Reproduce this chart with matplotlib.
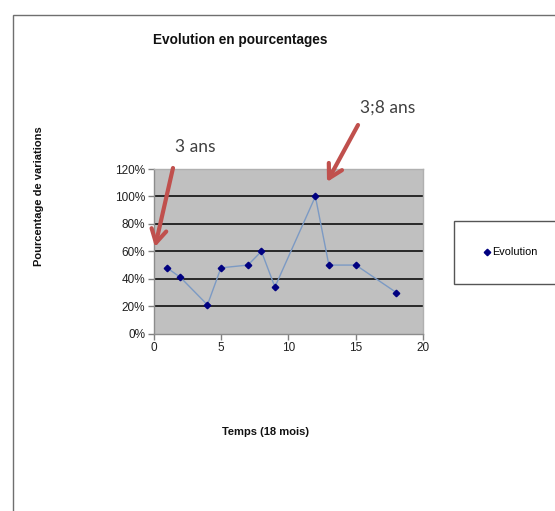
import matplotlib
matplotlib.use("Agg")
import matplotlib.pyplot as plt
from matplotlib.patches import Rectangle, FancyArrowPatch
from matplotlib.ticker import FuncFormatter, MultipleLocator

# Data
months = [1, 2, 4, 5, 7, 8, 9, 12, 13, 15, 18]
evolution = [48, 41, 21, 48, 50, 60, 34, 100, 50, 50, 30]
series_name = "Evolution"
title = "Evolution en pourcentages"
xlabel = "Temps (18 mois)"
ylabel = "Pourcentage de variations"
note1 = "3 ans"
note2 = "3;8 ans"

W, H = 555, 511
fig = plt.figure(figsize=(W / 100, H / 100), dpi=100)
fig.patch.set_facecolor("white")

def fx(px):
    return px / W

def fy(py):
    return 1 - py / H

# outer chart border
fig.patches.append(Rectangle((fx(13), fy(600)), fx(600), fy(15) - fy(600),
                             transform=fig.transFigure, fill=False,
                             edgecolor="#6f6f6f", linewidth=1.0, clip_on=False))

ax = fig.add_axes([fx(153.5), fy(333.7), fx(423.3) - fx(153.5), fy(169) - fy(333.7)])
ax.set_facecolor("#c0c0c0")
ax.plot(months, evolution, color="#7c9ac4", linewidth=1.0, marker="D",
        markersize=3.3, markerfacecolor="#000080", markeredgecolor="#000080",
        label=series_name, zorder=3)
ax.set_xlim(0, 20)
ax.set_ylim(0, 120)
ax.xaxis.set_major_locator(MultipleLocator(5))
ax.yaxis.set_major_locator(MultipleLocator(20))
ax.yaxis.set_major_formatter(FuncFormatter(lambda v, p: f"{int(v)}%"))
for y in range(20, 101, 20):
    ax.axhline(y, color="black", linewidth=1.1, zorder=1)
for s in ax.spines.values():
    s.set_color("#8c8c8c")
    s.set_linewidth(1.0)
ax.spines["top"].set_color("#b0b0b0")
ax.spines["right"].set_color("#b0b0b0")
ax.tick_params(axis="both", direction="out", length=4, width=1, color="#808080",
               labelsize=8.5, labelcolor="#202020", pad=2)
for lab in ax.get_xticklabels() + ax.get_yticklabels():
    lab.set_family("Liberation Sans")

fig.text(fx(240), fy(40), title, ha="center", va="center", fontsize=9.8,
         fontweight="bold", family="Liberation Sans", color="#111111")
fig.text(fx(39), fy(196), ylabel, ha="center", va="center", rotation=90,
         fontsize=8, fontweight="bold", family="Liberation Sans", color="#111111")
fig.text(fx(266), fy(432), xlabel, ha="center", va="center", fontsize=8,
         fontweight="bold", family="Liberation Sans", color="#111111")

# annotations
fig.text(fx(195), fy(147), note1, ha="center", va="center", fontsize=12.5,
         family="Lato", color="#404040")
fig.text(fx(388), fy(108), note2, ha="center", va="center", fontsize=12.5,
         family="Lato", color="#404040")
arrow_kw = dict(arrowstyle="->,head_length=0.8,head_width=0.45", color="#c0504d",
                lw=3.0, shrinkA=0, shrinkB=0, capstyle="round", joinstyle="round")
fig.add_artist(FancyArrowPatch(
    (fx(173), fy(168)), (fx(155), fy(247)), transform=fig.transFigure,
    mutation_scale=12, **arrow_kw))
fig.add_artist(FancyArrowPatch(
    (fx(358), fy(125)), (fx(327), fy(182)), transform=fig.transFigure,
    mutation_scale=12, **arrow_kw))

# legend box
fig.patches.append(Rectangle((fx(454), fy(284)), fx(200), fy(221) - fy(284),
                             transform=fig.transFigure, fill=True, facecolor="white",
                             edgecolor="#555555", linewidth=1.0, clip_on=False))
leg = fig.legend(loc="center left", bbox_to_anchor=(fx(474), fy(252.5)),
                 frameon=False, handlelength=0.6, handletextpad=0.2,
                 prop={"family": "Liberation Sans", "size": 7.8})
for h in leg.legend_handles:
    h.set_linestyle("none")
    h.set_markersize(3.3)

fig.savefig("out.png", dpi=100)
